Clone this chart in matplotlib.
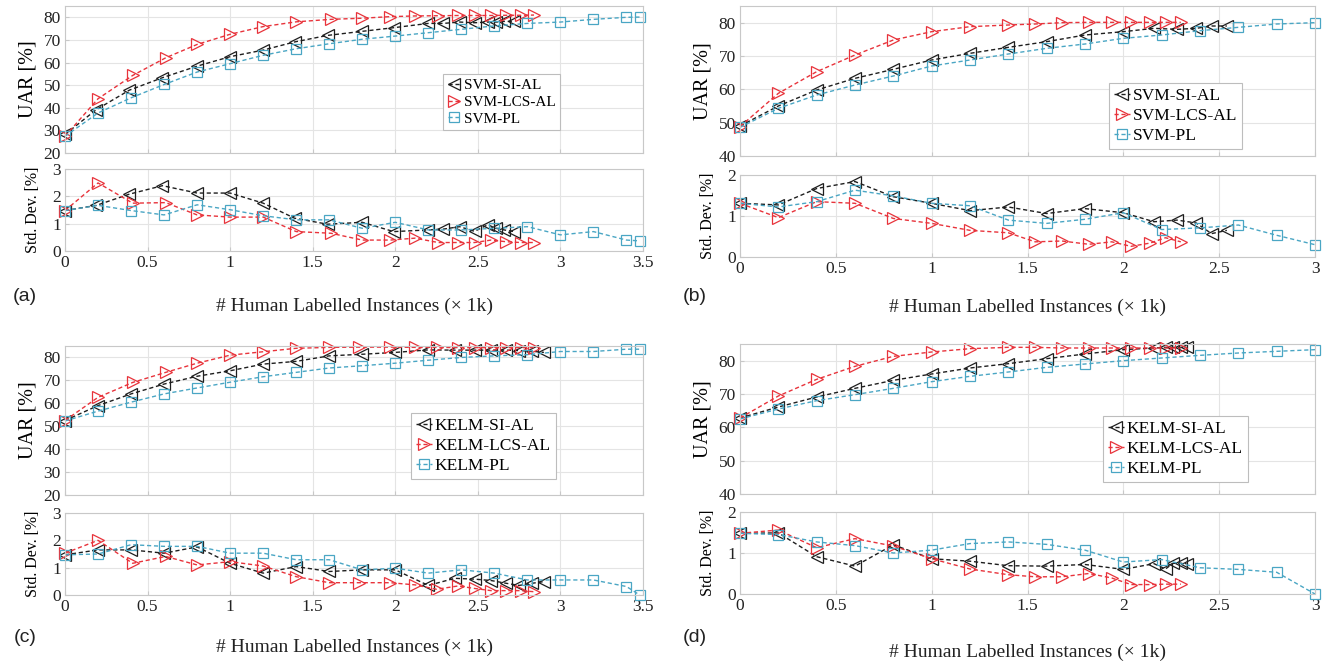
import matplotlib
matplotlib.use("Agg")
import matplotlib.pyplot as plt

# ---------------- data ----------------
# Panel (a) SVM, dataset 1
a_x_si = [0, 0.19, 0.39, 0.59, 0.8, 1.0, 1.2, 1.39, 1.59, 1.8, 1.99, 2.2, 2.29, 2.39, 2.48, 2.56, 2.61, 2.66, 2.72]
a_uar_si = [28.2, 39.2, 47.8, 53.3, 58.4, 62.6, 65.5, 69.1, 72.0, 73.8, 75.4, 77.3, 77.3, 77.9, 77.6, 77.9, 77.9, 78.2, 78.2]
a_std_si = [1.48, 1.67, 2.08, 2.39, 2.12, 2.12, 1.75, 1.20, 0.98, 1.05, 0.71, 0.77, 0.80, 0.89, 0.72, 0.96, 0.83, 0.77, 0.71]
a_x_lcs = [0, 0.2, 0.41, 0.61, 0.8, 1.0, 1.2, 1.4, 1.61, 1.8, 1.97, 2.12, 2.26, 2.38, 2.48, 2.58, 2.67, 2.76, 2.84]
a_uar_lcs = [27.4, 44.0, 54.3, 62.1, 68.0, 72.5, 75.9, 78.0, 79.1, 79.6, 80.3, 80.6, 80.7, 80.8, 80.8, 80.8, 80.9, 80.9, 81.0]
a_std_lcs = [1.48, 2.49, 1.75, 1.77, 1.32, 1.24, 1.24, 0.71, 0.65, 0.40, 0.40, 0.47, 0.31, 0.31, 0.31, 0.40, 0.34, 0.31, 0.31]
a_x_pl = [0, 0.2, 0.4, 0.6, 0.8, 1.0, 1.2, 1.4, 1.6, 1.8, 2.0, 2.2, 2.4, 2.6, 2.8, 3.0, 3.2, 3.4, 3.48]
a_uar_pl = [27.4, 37.7, 44.4, 50.3, 55.8, 59.5, 63.2, 66.1, 68.3, 70.3, 71.7, 73.2, 74.7, 76.2, 77.3, 77.9, 79.1, 80.0, 80.1]
a_std_pl = [1.48, 1.67, 1.48, 1.32, 1.69, 1.51, 1.29, 1.14, 1.14, 0.83, 1.05, 0.77, 0.77, 0.83, 0.89, 0.59, 0.71, 0.40, 0.37]

# Panel (b) SVM, dataset 2
b_x_si = [0, 0.2, 0.4, 0.6, 0.8, 1.0, 1.2, 1.4, 1.6, 1.8, 2.0, 2.16, 2.28, 2.38, 2.46, 2.54]
b_uar_si = [49.0, 55.0, 59.8, 63.3, 66.0, 68.8, 70.8, 72.6, 74.3, 76.3, 77.3, 78.3, 78.0, 78.3, 79.0, 79.0]
b_std_si = [1.31, 1.27, 1.67, 1.84, 1.47, 1.31, 1.13, 1.22, 1.06, 1.18, 1.08, 0.86, 0.90, 0.83, 0.57, 0.65]
b_x_lcs = [0, 0.2, 0.4, 0.6, 0.8, 1.0, 1.2, 1.4, 1.54, 1.68, 1.82, 1.94, 2.04, 2.14, 2.22, 2.3]
b_uar_lcs = [48.8, 58.8, 65.3, 70.3, 74.8, 77.3, 78.8, 79.3, 79.6, 80.0, 80.1, 80.1, 80.1, 80.1, 80.1, 80.1]
b_std_lcs = [1.31, 0.96, 1.35, 1.31, 0.94, 0.82, 0.65, 0.59, 0.37, 0.39, 0.31, 0.37, 0.26, 0.34, 0.47, 0.37]
b_x_pl = [0, 0.2, 0.4, 0.6, 0.8, 1.0, 1.2, 1.4, 1.6, 1.8, 2.0, 2.2, 2.4, 2.6, 2.8, 3.0]
b_uar_pl = [48.6, 54.3, 58.3, 61.3, 64.0, 67.0, 68.8, 70.6, 72.3, 73.6, 75.3, 76.3, 77.6, 78.6, 79.6, 80.0]
b_std_pl = [1.31, 1.22, 1.35, 1.63, 1.49, 1.31, 1.25, 0.90, 0.82, 0.92, 1.08, 0.67, 0.71, 0.78, 0.53, 0.30]

# Panel (c) KELM, dataset 1
c_x_si = [0, 0.2, 0.4, 0.6, 0.8, 1.0, 1.2, 1.4, 1.6, 1.8, 2.0, 2.2, 2.36, 2.48, 2.58, 2.67, 2.75, 2.83, 2.9]
c_uar_si = [52.5, 59.0, 64.1, 68.4, 71.8, 74.2, 77.1, 78.3, 80.7, 81.4, 82.2, 83.3, 83.2, 83.2, 83.2, 83.2, 83.0, 82.7, 82.2]
c_std_si = [1.47, 1.65, 1.65, 1.53, 1.76, 1.16, 0.80, 1.04, 0.86, 0.92, 0.92, 0.35, 0.61, 0.58, 0.53, 0.43, 0.35, 0.43, 0.49]
c_x_lcs = [0, 0.2, 0.41, 0.61, 0.8, 1.0, 1.2, 1.4, 1.6, 1.78, 1.97, 2.12, 2.25, 2.38, 2.48, 2.58, 2.67, 2.76, 2.84]
c_uar_lcs = [52.5, 62.6, 69.1, 73.5, 77.5, 81.0, 82.5, 84.0, 84.4, 84.5, 84.5, 84.4, 84.4, 84.3, 84.3, 84.3, 84.3, 84.3, 84.3]
c_std_lcs = [1.53, 2.00, 1.16, 1.41, 1.10, 1.22, 1.06, 0.67, 0.45, 0.45, 0.45, 0.37, 0.21, 0.33, 0.24, 0.16, 0.16, 0.16, 0.12]
c_x_pl = [0, 0.2, 0.4, 0.6, 0.8, 1.0, 1.2, 1.4, 1.6, 1.8, 2.0, 2.2, 2.4, 2.6, 2.8, 3.0, 3.2, 3.4, 3.48]
c_uar_pl = [52.3, 56.6, 60.5, 64.1, 66.7, 69.2, 71.6, 73.5, 75.4, 76.4, 77.5, 78.8, 80.0, 80.7, 81.2, 82.6, 82.6, 83.6, 83.6]
c_std_pl = [1.47, 1.50, 1.84, 1.78, 1.78, 1.53, 1.53, 1.29, 1.29, 0.92, 0.98, 0.80, 0.92, 0.80, 0.55, 0.55, 0.55, 0.31, 0.0]

# Panel (d) KELM, dataset 2
d_x_si = [0, 0.2, 0.4, 0.6, 0.8, 1.0, 1.2, 1.4, 1.6, 1.8, 2.0, 2.16, 2.22, 2.26, 2.3, 2.33]
d_uar_si = [62.8, 66.1, 69.1, 71.7, 74.1, 76.0, 77.8, 79.1, 80.6, 82.0, 83.3, 83.8, 84.0, 84.0, 84.0, 84.0]
d_std_si = [1.48, 1.49, 0.91, 0.68, 1.20, 0.86, 0.80, 0.69, 0.68, 0.72, 0.60, 0.74, 0.61, 0.75, 0.75, 0.74]
d_x_lcs = [0, 0.2, 0.4, 0.6, 0.8, 1.0, 1.2, 1.4, 1.54, 1.68, 1.82, 1.94, 2.04, 2.14, 2.22, 2.3]
d_uar_lcs = [62.8, 69.4, 74.4, 78.3, 81.3, 82.6, 83.6, 84.0, 84.0, 83.8, 83.8, 83.8, 83.8, 83.8, 83.8, 83.8]
d_std_lcs = [1.48, 1.56, 1.13, 1.35, 1.17, 0.86, 0.61, 0.47, 0.42, 0.42, 0.50, 0.39, 0.23, 0.23, 0.24, 0.24]
d_x_pl = [0, 0.2, 0.4, 0.6, 0.8, 1.0, 1.2, 1.4, 1.6, 1.8, 2.0, 2.2, 2.4, 2.6, 2.8, 3.0]
d_uar_pl = [62.5, 65.5, 68.0, 69.8, 71.7, 73.7, 75.3, 76.6, 78.0, 79.0, 80.0, 80.8, 81.6, 82.3, 82.8, 83.3]
d_std_pl = [1.48, 1.45, 1.27, 1.18, 1.00, 1.07, 1.23, 1.27, 1.21, 1.07, 0.78, 0.84, 0.64, 0.60, 0.53, 0.0]

svm_names = ["SVM-SI-AL", "SVM-LCS-AL", "SVM-PL"]
kelm_names = ["KELM-SI-AL", "KELM-LCS-AL", "KELM-PL"]
panel_letters = ["(a)", "(b)", "(c)", "(d)"]
xlabel_text = "# Human Labelled Instances (\u00d7 1k)"
uar_label = "UAR [%]"
std_label = "Std. Dev. [%]"

# ---------------- style ----------------
plt.rcParams["font.family"] = ["Liberation Serif", "DejaVu Serif"]

BLACK = "#1e1e1e"
RED = "#e8333b"
CYAN = "#4aa6c4"
GRIDC = "#e4e4e4"
SPINEC = "#c8c8c8"
dash = (0, (3, 2))

fig = plt.figure(figsize=(13.38, 6.62), dpi=100)
W, H = 1338.0, 662.0


def ax_px(left, top, right, bottom):
    return fig.add_axes([left / W, 1 - bottom / H, (right - left) / W, (bottom - top) / H])


def style(ax, xmax, ylim, yticks, show_xt):
    ax.set_xlim(0, xmax)
    ax.set_ylim(*ylim)
    ax.set_yticks(yticks)
    xt = [i * 0.5 for i in range(int(round(xmax / 0.5)) + 1)]
    ax.set_xticks(xt)
    if show_xt:
        ax.set_xticklabels(["%g" % v for v in xt])
    else:
        ax.set_xticklabels([])
    ax.grid(True, color=GRIDC, linewidth=0.8)
    ax.set_axisbelow(True)
    for s in ax.spines.values():
        s.set_color(SPINEC)
        s.set_linewidth(0.8)
    ax.tick_params(direction="in", length=3, color=SPINEC, labelsize=12.5,
                   labelcolor="#222222", pad=3)


def draw(ax, xs, ys, names=None):
    specs = [("<", BLACK, 9), (">", RED, 9), ("s", CYAN, 7)]
    for i, (x, y) in enumerate(zip(xs, ys)):
        m, c, ms = specs[i]
        ax.plot(x, y, linestyle=dash, color=c, linewidth=1.0, marker=m,
                markersize=ms, markerfacecolor="none", markeredgecolor=c,
                markeredgewidth=0.9, clip_on=False,
                label=None if names is None else names[i])


panels = [
    dict(lr=(65, 643), uar_tb=(6, 153), std_tb=(169, 251), xmax=3.5,
         uylim=(20, 85), uyt=[20, 30, 40, 50, 60, 70, 80], sylim=(0, 3), syt=[0, 1, 2, 3],
         names=svm_names, leg=(443, 74), lfs=11, xl_y=306, let=(25, 296),
         x=[a_x_si, a_x_lcs, a_x_pl], u=[a_uar_si, a_uar_lcs, a_uar_pl], s=[a_std_si, a_std_lcs, a_std_pl]),
    dict(lr=(740, 1315), uar_tb=(6, 156), std_tb=(175, 257), xmax=3.0,
         uylim=(40, 85), uyt=[40, 50, 60, 70, 80], sylim=(0, 2), syt=[0, 1, 2],
         names=svm_names, leg=(1109, 83), lfs=12.5, xl_y=307, let=(695, 296),
         x=[b_x_si, b_x_lcs, b_x_pl], u=[b_uar_si, b_uar_lcs, b_uar_pl], s=[b_std_si, b_std_lcs, b_std_pl]),
    dict(lr=(65, 643), uar_tb=(346, 495), std_tb=(513, 595), xmax=3.5,
         uylim=(20, 85), uyt=[20, 30, 40, 50, 60, 70, 80], sylim=(0, 3), syt=[0, 1, 2, 3],
         names=kelm_names, leg=(411, 413), lfs=12.5, xl_y=647, let=(25, 637),
         x=[c_x_si, c_x_lcs, c_x_pl], u=[c_uar_si, c_uar_lcs, c_uar_pl], s=[c_std_si, c_std_lcs, c_std_pl]),
    dict(lr=(740, 1315), uar_tb=(344, 494), std_tb=(512, 594), xmax=3.0,
         uylim=(40, 85), uyt=[40, 50, 60, 70, 80], sylim=(0, 2), syt=[0, 1, 2],
         names=kelm_names, leg=(1103, 416), lfs=12.5, xl_y=652, let=(695, 637),
         x=[d_x_si, d_x_lcs, d_x_pl], u=[d_uar_si, d_uar_lcs, d_uar_pl], s=[d_std_si, d_std_lcs, d_std_pl]),
]

for p, letter in zip(panels, panel_letters):
    l, r = p["lr"]
    t, b = p["uar_tb"]
    axu = ax_px(l, t, r, b)
    style(axu, p["xmax"], p["uylim"], p["uyt"], False)
    draw(axu, p["x"], p["u"], p["names"])
    axu.set_ylabel(uar_label, fontsize=14.5, labelpad=4)
    lx = (p["leg"][0] - l) / (r - l)
    ly = 1 - (p["leg"][1] - t) / (b - t)
    leg = axu.legend(loc="upper left", bbox_to_anchor=(lx, ly), fontsize=p["lfs"],
                     frameon=True, fancybox=False, handlelength=0.9,
                     handletextpad=0.15, borderpad=0.3, labelspacing=0.2,
                     borderaxespad=0.0)
    leg.get_frame().set_edgecolor("#bdbdbd")
    leg.get_frame().set_linewidth(0.8)
    leg.get_frame().set_alpha(1.0)

    axs = ax_px(l, p["std_tb"][0], r, p["std_tb"][1])
    style(axs, p["xmax"], p["sylim"], p["syt"], True)
    draw(axs, p["x"], p["s"])
    axs.set_ylabel(std_label, fontsize=11.5, labelpad=8)

    fig.text((l + r) / 2 / W, 1 - p["xl_y"] / H, xlabel_text, ha="center", va="center",
             fontsize=14, color="#222222")
    fig.text(p["let"][0] / W, 1 - p["let"][1] / H, letter, ha="center", va="center",
             fontsize=14, family=["Liberation Sans", "DejaVu Sans"], color="#222222")

fig.savefig("out.png", dpi=100)
